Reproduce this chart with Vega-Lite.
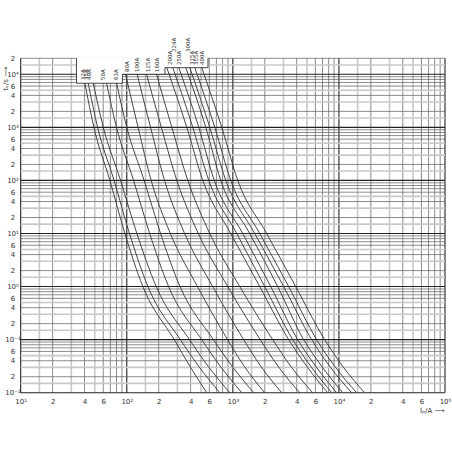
{
 "$schema": "https://vega.github.io/schema/vega-lite/v6.json",
 "width": 424.3, "height": 334.4,
 "autosize": {"type": "none"},
 "padding": {"left": 20.7, "top": 58.3, "right": 7, "bottom": 59.3},
 "background": "white",
 "config": {"view": {"stroke": null}, "font": "DejaVu Sans"},
 "resolve": {"axis": {"x": "independent", "y": "independent"}},
 "datasets": {
  "gx": [
   {"v":15,"k":"g"},{"v":30,"k":"g"},{"v":50,"k":"g"},{"v":150,"k":"g"},{"v":300,"k":"g"},{"v":500,"k":"g"},{"v":1500,"k":"g"},{"v":3000,"k":"g"},{"v":5000,"k":"g"},{"v":15000,"k":"g"},{"v":30000,"k":"g"},{"v":50000,"k":"g"},
   {"v":20,"k":"n"},{"v":40,"k":"n"},{"v":60,"k":"n"},{"v":70,"k":"n"},{"v":80,"k":"n"},{"v":90,"k":"n"},
   {"v":200,"k":"n"},{"v":400,"k":"n"},{"v":600,"k":"n"},{"v":700,"k":"n"},{"v":800,"k":"n"},{"v":900,"k":"n"},
   {"v":2000,"k":"n"},{"v":4000,"k":"n"},{"v":6000,"k":"n"},{"v":7000,"k":"n"},{"v":8000,"k":"n"},{"v":9000,"k":"n"},
   {"v":20000,"k":"n"},{"v":40000,"k":"n"},{"v":60000,"k":"n"},{"v":70000,"k":"n"},{"v":80000,"k":"n"},{"v":90000,"k":"n"},
   {"v":10,"k":"d"},{"v":100,"k":"d"},{"v":1000,"k":"d"},{"v":10000,"k":"d"},{"v":100000,"k":"d"}
  ],
  "gy": [
   {"v":0.015,"k":"g"},{"v":0.03,"k":"g"},{"v":0.05,"k":"g"},{"v":0.15,"k":"g"},{"v":0.3,"k":"g"},{"v":0.5,"k":"g"},{"v":1.5,"k":"g"},{"v":3,"k":"g"},{"v":5,"k":"g"},{"v":15,"k":"g"},{"v":30,"k":"g"},{"v":50,"k":"g"},{"v":150,"k":"g"},{"v":300,"k":"g"},{"v":500,"k":"g"},{"v":1500,"k":"g"},{"v":3000,"k":"g"},{"v":5000,"k":"g"},{"v":15000,"k":"g"},
   {"v":0.02,"k":"n"},{"v":0.04,"k":"n"},{"v":0.06,"k":"n"},{"v":0.07,"k":"n"},{"v":0.08,"k":"n"},{"v":0.09,"k":"n"},
   {"v":0.2,"k":"n"},{"v":0.4,"k":"n"},{"v":0.6,"k":"n"},{"v":0.7,"k":"n"},{"v":0.8,"k":"n"},{"v":0.9,"k":"n"},
   {"v":2,"k":"n"},{"v":4,"k":"n"},{"v":6,"k":"n"},{"v":7,"k":"n"},{"v":8,"k":"n"},{"v":9,"k":"n"},
   {"v":20,"k":"n"},{"v":40,"k":"n"},{"v":60,"k":"n"},{"v":70,"k":"n"},{"v":80,"k":"n"},{"v":90,"k":"n"},
   {"v":200,"k":"n"},{"v":400,"k":"n"},{"v":600,"k":"n"},{"v":700,"k":"n"},{"v":800,"k":"n"},{"v":900,"k":"n"},
   {"v":2000,"k":"n"},{"v":4000,"k":"n"},{"v":6000,"k":"n"},{"v":7000,"k":"n"},{"v":8000,"k":"n"},{"v":9000,"k":"n"},
   {"v":20000,"k":"n"},
   {"v":0.01,"k":"d"},{"v":0.1,"k":"d"},{"v":1,"k":"d"},{"v":10,"k":"d"},{"v":100,"k":"d"},{"v":1000,"k":"d"},{"v":10000,"k":"d"}
  ],
  "notch": [
   {"I1":33.6,"I2":91,"t1":6780,"t2":21000},
   {"I1":91,"I2":229,"t1":10000,"t2":21000},
   {"I1":229,"I2":583,"t1":13300,"t2":21000}
  ],
  "outline": [
   {"I":33.6,"t":20000,"o":1},{"I":33.6,"t":6780,"o":2},{"I":91,"t":6780,"o":3},{"I":91,"t":10000,"o":4},
   {"I":229,"t":10000,"o":5},{"I":229,"t":13300,"o":6},{"I":583,"t":13300,"o":7},{"I":583,"t":20000,"o":8}
  ],
  "curves": [
   {"c":"32A","I":40.3,"t":6780},{"c":"32A","I":49.0,"t":1000},{"c":"32A","I":69.3,"t":100},{"c":"32A","I":96.0,"t":10},{"c":"32A","I":141.8,"t":1},{"c":"32A","I":280,"t":0.1},{"c":"32A","I":392.9,"t":0.0316},{"c":"32A","I":567.8,"t":0.01},
   {"c":"35A","I":43.3,"t":6780},{"c":"35A","I":53.1,"t":1000},{"c":"35A","I":75.9,"t":100},{"c":"35A","I":106.0,"t":10},{"c":"35A","I":158.3,"t":1},{"c":"35A","I":319.7,"t":0.1},{"c":"35A","I":475.4,"t":0.0316},{"c":"35A","I":752.8,"t":0.01},
   {"c":"40A","I":48.3,"t":6780},{"c":"40A","I":60.1,"t":1000},{"c":"40A","I":87.4,"t":100},{"c":"40A","I":124.5,"t":10},{"c":"40A","I":189.6,"t":1},{"c":"40A","I":390.2,"t":0.1},{"c":"40A","I":584.1,"t":0.0316},{"c":"40A","I":935,"t":0.01},
   {"c":"50A","I":64.5,"t":6780},{"c":"50A","I":80.0,"t":1000},{"c":"50A","I":115.9,"t":100},{"c":"50A","I":164.3,"t":10},{"c":"50A","I":248.0,"t":1},{"c":"50A","I":508.5,"t":0.1},{"c":"50A","I":761,"t":0.0316},{"c":"50A","I":1213,"t":0.01},
   {"c":"63A","I":80.2,"t":6780},{"c":"63A","I":100,"t":1000},{"c":"63A","I":145.8,"t":100},{"c":"63A","I":208.2,"t":10},{"c":"63A","I":317.6,"t":1},{"c":"63A","I":655.3,"t":0.1},{"c":"63A","I":983,"t":0.0316},{"c":"63A","I":1573,"t":0.01},
   {"c":"80A","I":97.4,"t":10000},{"c":"80A","I":127.8,"t":1000},{"c":"80A","I":169.7,"t":100},{"c":"80A","I":257.4,"t":10},{"c":"80A","I":464.2,"t":1},{"c":"80A","I":891.4,"t":0.1},{"c":"80A","I":1278,"t":0.0316},{"c":"80A","I":1997,"t":0.01},
   {"c":"100A","I":125.3,"t":10000},{"c":"100A","I":167.5,"t":1000},{"c":"100A","I":227,"t":100},{"c":"100A","I":351,"t":10},{"c":"100A","I":645.3,"t":1},{"c":"100A","I":1264,"t":0.1},{"c":"100A","I":1831,"t":0.0316},{"c":"100A","I":2887,"t":0.01},
   {"c":"125A","I":153.6,"t":10000},{"c":"125A","I":211.8,"t":1000},{"c":"125A","I":296.4,"t":100},{"c":"125A","I":472.3,"t":10},{"c":"125A","I":895.4,"t":1},{"c":"125A","I":1811,"t":0.1},{"c":"125A","I":2665,"t":0.0316},{"c":"125A","I":4266,"t":0.01},
   {"c":"160A","I":190.8,"t":10000},{"c":"160A","I":265.9,"t":1000},{"c":"160A","I":376.1,"t":100},{"c":"160A","I":606,"t":10},{"c":"160A","I":1161,"t":1},{"c":"160A","I":2375,"t":0.1},{"c":"160A","I":3510,"t":0.0316},{"c":"160A","I":5654,"t":0.01},
   {"c":"200A","I":238.5,"t":13300},{"c":"200A","I":368.1,"t":1000},{"c":"200A","I":520.8,"t":100},{"c":"200A","I":955.4,"t":10},{"c":"200A","I":1792,"t":1},{"c":"200A","I":3360,"t":0.1},{"c":"200A","I":4965,"t":0.0316},{"c":"200A","I":7829,"t":0.01},
   {"c":"224A","I":271.7,"t":13300},{"c":"224A","I":419.3,"t":1000},{"c":"224A","I":593.1,"t":100},{"c":"224A","I":1088,"t":10},{"c":"224A","I":1997,"t":1},{"c":"224A","I":3665,"t":0.1},{"c":"224A","I":5414,"t":0.0316},{"c":"224A","I":8537,"t":0.01},
   {"c":"250A","I":309.5,"t":13300},{"c":"250A","I":477.5,"t":1000},{"c":"250A","I":668.3,"t":100},{"c":"250A","I":1239,"t":10},{"c":"250A","I":2275,"t":1},{"c":"250A","I":4085,"t":0.1},{"c":"250A","I":6036,"t":0.0316},{"c":"250A","I":9515,"t":0.01},
   {"c":"300A","I":360.3,"t":13300},{"c":"300A","I":555.6,"t":1000},{"c":"300A","I":769.3,"t":100},{"c":"300A","I":1443,"t":10},{"c":"300A","I":2647,"t":1},{"c":"300A","I":4651,"t":0.1},{"c":"300A","I":6873,"t":0.0316},{"c":"300A","I":10837,"t":0.01},
   {"c":"315A","I":392.9,"t":13300},{"c":"315A","I":606,"t":1000},{"c":"315A","I":857.5,"t":100},{"c":"315A","I":1608,"t":10},{"c":"315A","I":3015,"t":1},{"c":"315A","I":5533,"t":0.1},{"c":"315A","I":8173,"t":0.0316},{"c":"315A","I":13170,"t":0.01},
   {"c":"355A","I":437.7,"t":13300},{"c":"355A","I":675.5,"t":1000},{"c":"355A","I":955.4,"t":100},{"c":"355A","I":1792,"t":10},{"c":"355A","I":3360,"t":1},{"c":"355A","I":6166,"t":0.1},{"c":"355A","I":9111,"t":0.0316},{"c":"355A","I":14680,"t":0.01},
   {"c":"400A","I":509.5,"t":13300},{"c":"400A","I":786.1,"t":1000},{"c":"400A","I":1112,"t":100},{"c":"400A","I":2085,"t":10},{"c":"400A","I":3911,"t":1},{"c":"400A","I":7335,"t":0.1},{"c":"400A","I":10837,"t":0.0316},{"c":"400A","I":17458,"t":0.01}
  ],
  "labels": [
   {"c":"32A","I":38.4,"t":7820},{"c":"35A","I":41.2,"t":7820},{"c":"40A","I":44.3,"t":7820},{"c":"50A","I":60,"t":7820},{"c":"63A","I":78.9,"t":7820},
   {"c":"80A","I":101,"t":11000},{"c":"100A","I":123.6,"t":11000},{"c":"125A","I":157,"t":11000},{"c":"160A","I":193,"t":11000},
   {"c":"200A","I":254.5,"t":15000},{"c":"224A","I":277,"t":26200},{"c":"250A","I":309,"t":15000},{"c":"300A","I":378,"t":26200},{"c":"315A","I":412,"t":15000},{"c":"355A","I":450,"t":15000},{"c":"400A","I":509,"t":15000}
  ]
 },
 "layer": [
  {
   "data": {"name": "gx"},
   "mark": {"type": "rule"},
   "encoding": {
    "x": {"field": "v", "type": "quantitative",
      "scale": {"type": "log", "domain": [10, 100000]},
      "axis": {"values": [10,20,40,60,100,200,400,600,1000,2000,4000,6000,10000,20000,40000,60000,100000],
        "labelExpr": "datum.value==0.01?'10⁻²':datum.value==0.1?'10⁻¹':datum.value==1?'10⁰':datum.value==10?'10¹':datum.value==100?'10²':datum.value==1000?'10³':datum.value==10000?'10⁴':datum.value==100000?'10⁵':substring(format(datum.value,'.0e'),0,1)",
        "title": "Iₚ/A ⟶", "ticks": false, "domain": false, "grid": false, "labelFlush": false, "labelOverlap": false,
        "labelFontSize": 7, "labelColor": "#333", "labelPadding": 5,
        "titleFontSize": 7, "titleFontWeight": "normal", "titleColor": "#333", "titleX": 411, "titleY": 18, "titleAlign": "center", "titleBaseline": "middle"}},
    "color": {"field": "k", "type": "nominal", "scale": {"domain": ["d","n","g"], "range": ["#222","#5a5a5a","#c8c8c8"]}, "legend": null},
    "strokeWidth": {"condition": [{"test": "datum.k=='g'", "value": 1.6}, {"test": "datum.k=='d'", "value": 1.1}], "value": 0.7}
   }
  },
  {
   "data": {"name": "gy"},
   "mark": {"type": "rule"},
   "encoding": {
    "y": {"field": "v", "type": "quantitative",
      "scale": {"type": "log", "domain": [0.01, 20000]},
      "axis": {"values": [0.01,0.02,0.04,0.06,0.1,0.2,0.4,0.6,1,2,4,6,10,20,40,60,100,200,400,600,1000,2000,4000,6000,10000,20000],
        "labelExpr": "datum.value==0.01?'10⁻²':datum.value==0.1?'10⁻¹':datum.value==1?'10⁰':datum.value==10?'10¹':datum.value==100?'10²':datum.value==1000?'10³':datum.value==10000?'10⁴':datum.value==100000?'10⁵':substring(format(datum.value,'.0e'),0,1)",
        "title": "tᵥ/s ⟶", "ticks": false, "domain": false, "grid": false, "labelOverlap": false, "labelFlush": false,
        "labelFontSize": 7, "labelColor": "#333", "labelPadding": 8.2, "labelAlign": "center", "labelBaseline": "middle",
        "titleFontSize": 7, "titleFontWeight": "normal", "titleColor": "#333", "titleX": -15.7, "titleY": 20, "titleAlign": "center", "titleBaseline": "middle"}},
    "color": {"field": "k", "type": "nominal", "scale": {"domain": ["d","n","g"], "range": ["#222","#5a5a5a","#c8c8c8"]}, "legend": null},
    "strokeWidth": {"condition": [{"test": "datum.k=='g'", "value": 1.6}, {"test": "datum.k=='d'", "value": 1.1}], "value": 0.7}
   }
  },
  {
   "data": {"name": "notch"},
   "mark": {"type": "rect", "fill": "white", "strokeWidth": 0},
   "encoding": {
    "x": {"field": "I1", "type": "quantitative", "scale": {"type": "log", "domain": [10, 100000]}, "axis": null},
    "x2": {"field": "I2"},
    "y": {"field": "t1", "type": "quantitative", "scale": {"type": "log", "domain": [0.01, 20000]}, "axis": null},
    "y2": {"field": "t2"}
   }
  },
  {
   "data": {"name": "outline"},
   "mark": {"type": "line", "color": "#333", "strokeWidth": 0.9},
   "encoding": {
    "x": {"field": "I", "type": "quantitative", "scale": {"type": "log", "domain": [10, 100000]}, "axis": null},
    "y": {"field": "t", "type": "quantitative", "scale": {"type": "log", "domain": [0.01, 20000]}, "axis": null},
    "order": {"field": "o", "type": "quantitative"}
   }
  },
  {
   "data": {"name": "curves"},
   "mark": {"type": "line", "color": "#333", "strokeWidth": 0.9, "interpolate": "monotone"},
   "encoding": {
    "x": {"field": "I", "type": "quantitative", "scale": {"type": "log", "domain": [10, 100000]}, "axis": null},
    "y": {"field": "t", "type": "quantitative", "scale": {"type": "log", "domain": [0.01, 20000]}, "axis": null},
    "detail": {"field": "c", "type": "nominal"}
   }
  },
  {
   "data": {"name": "labels"},
   "mark": {"type": "text", "angle": 270, "align": "left", "baseline": "middle", "fontSize": 5.5, "fill": "#333"},
   "encoding": {
    "x": {"field": "I", "type": "quantitative", "scale": {"type": "log", "domain": [10, 100000]}, "axis": null},
    "y": {"field": "t", "type": "quantitative", "scale": {"type": "log", "domain": [0.01, 20000]}, "axis": null},
    "text": {"field": "c", "type": "nominal"}
   }
  }
 ]
}
